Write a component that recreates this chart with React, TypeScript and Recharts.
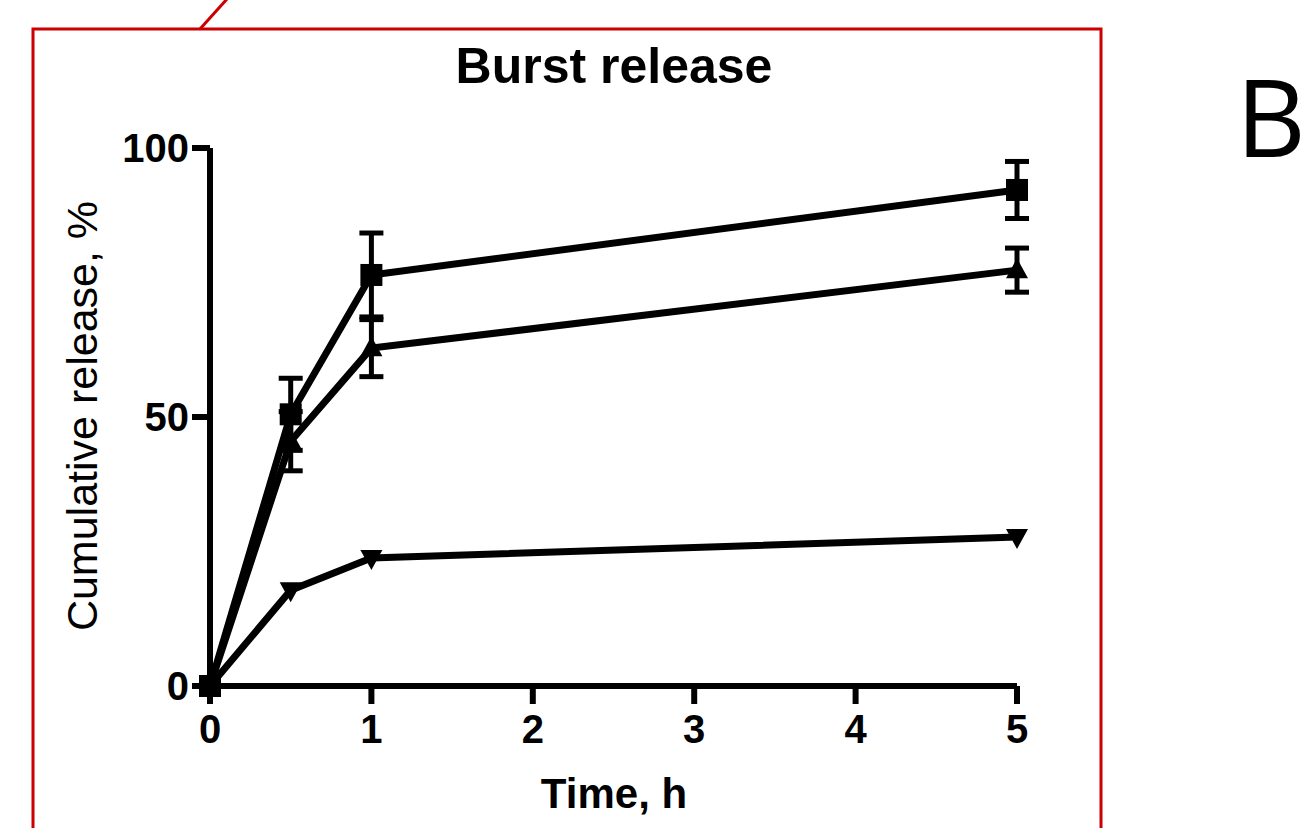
import React from 'react';
import { LineChart, Line, XAxis, YAxis, ErrorBar } from 'recharts';

// sampling times, h
const times = [0, 0.5, 1, 5];

// cumulative release, %
const squareSeries = [0, 50.5, 76.4, 92.2];
const squareErr = [0, 6.7, 7.8, 5.3];
const upSeries = [0, 45.5, 62.8, 77.3];
const upErr = [0, 5.5, 5.3, 4.1];
const downSeries = [0, 17.8, 23.8, 27.7];

const xTicks = [0, 1, 2, 3, 4, 5];
const yTicks = [0, 50, 100];

const data = times.map((t, i) => ({
  t,
  sq: squareSeries[i],
  sqErr: squareErr[i],
  up: upSeries[i],
  upErr: upErr[i],
  down: downSeries[i],
}));

const FONT = '"Liberation Sans", Arial, sans-serif';

const SquareDot = (props: any) => {
  const { cx, cy } = props;
  if (cx == null || cy == null) return null;
  return <rect x={cx - 11} y={cy - 11} width={22} height={22} fill="#000" />;
};

const UpDot = (props: any) => {
  const { cx, cy } = props;
  if (cx == null || cy == null) return null;
  return <path d={`M${cx},${cy - 12} L${cx + 11},${cy + 8} L${cx - 11},${cy + 8} Z`} fill="#000" />;
};

const DownDot = (props: any) => {
  const { cx, cy } = props;
  if (cx == null || cy == null) return null;
  return <path d={`M${cx},${cy + 12} L${cx + 11},${cy - 8} L${cx - 11},${cy - 8} Z`} fill="#000" />;
};

const tickStyle = { fill: '#000', fontSize: 40, fontWeight: 700, fontFamily: FONT };

export default function App() {
  return (
    <div style={{ position: 'absolute', left: 0, top: 0, width: 1310, height: 828, background: '#fff', overflow: 'hidden' }}>
      <svg width={1310} height={828} style={{ position: 'absolute', left: 0, top: 0 }}>
        <path d="M33,828 L33,29 L1101,29 L1101,828" fill="none" stroke="#cc0000" strokeWidth={3} />
        <line x1={200} y1={29} x2={227} y2={-1} stroke="#cc0000" strokeWidth={3} />
        <text x={614} y={83} textAnchor="middle" fontFamily={FONT} fontWeight={700} fontSize={50}>Burst release</text>
        <text x={614} y={808} textAnchor="middle" fontFamily={FONT} fontWeight={700} fontSize={42}>Time, h</text>
        <text x={97} y={416} textAnchor="middle" fontFamily={FONT} fontSize={43} transform="rotate(-90 97 416)">Cumulative release, %</text>
        <text x={1236} y={157} fontFamily='"Open Sans", sans-serif' fontSize={108}>B</text>
      </svg>
      <div style={{ position: 'absolute', left: 0, top: 0 }}>
        <LineChart width={1310} height={828} data={data} margin={{ top: 148, right: 293, bottom: 62, left: 110 }}>
          <XAxis
            dataKey="t"
            type="number"
            domain={[0, 5]}
            ticks={xTicks}
            height={80}
            stroke="#000"
            strokeWidth={6}
            tickSize={18}
            tickMargin={11}
            tick={tickStyle}
          />
          <YAxis
            type="number"
            domain={[0, 100]}
            ticks={yTicks}
            width={100}
            stroke="#000"
            strokeWidth={6}
            tickSize={18}
            tickMargin={3}
            tick={tickStyle}
          />
          <Line dataKey="down" stroke="#000" strokeWidth={7} dot={<DownDot />} isAnimationActive={false} />
          <Line dataKey="up" stroke="#000" strokeWidth={7} dot={<UpDot />} isAnimationActive={false}>
            <ErrorBar dataKey="upErr" direction="y" width={12} strokeWidth={5} stroke="#000" isAnimationActive={false} />
          </Line>
          <Line dataKey="sq" stroke="#000" strokeWidth={7} dot={<SquareDot />} isAnimationActive={false}>
            <ErrorBar dataKey="sqErr" direction="y" width={12} strokeWidth={5} stroke="#000" isAnimationActive={false} />
          </Line>
        </LineChart>
      </div>
    </div>
  );
}
